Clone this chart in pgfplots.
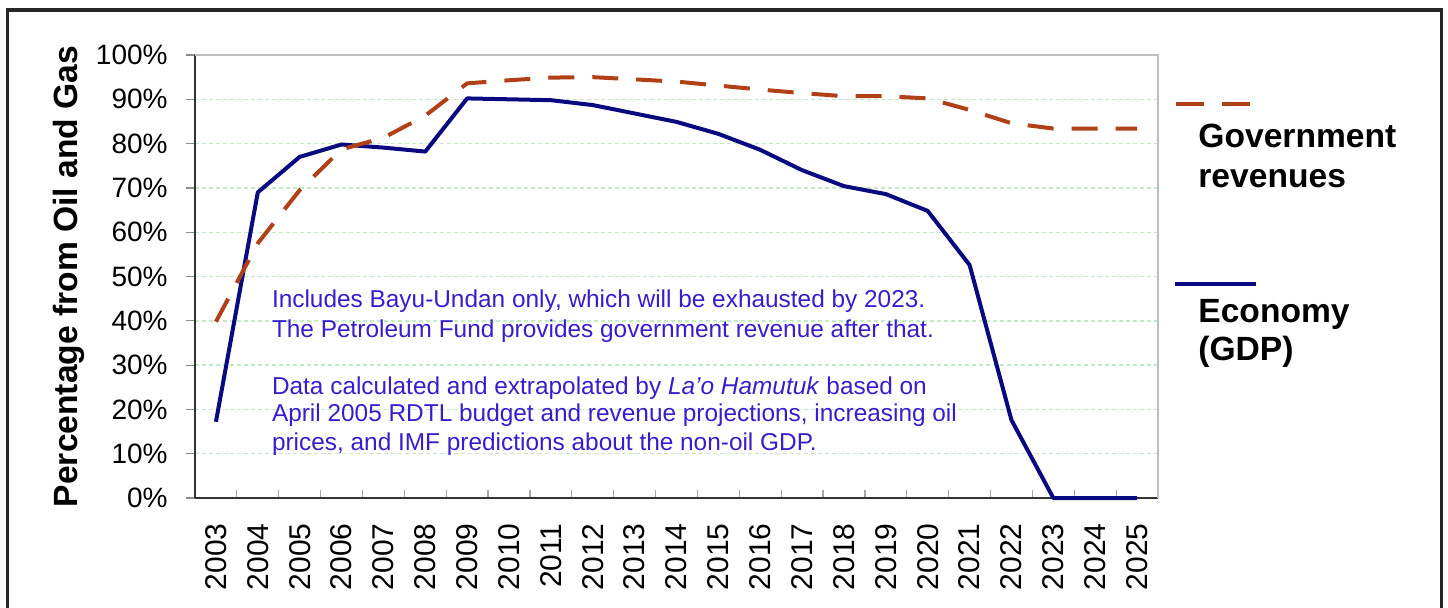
\documentclass[border=0pt]{standalone}
\usepackage{pgfplots}
\pgfplotsset{compat=1.18}
\usepackage{fontspec}
\setmainfont{Liberation Sans}
\definecolor{revcol}{RGB}{176,64,22}
\definecolor{gdpcol}{RGB}{10,10,128}
\definecolor{notecol}{RGB}{55,30,205}
\definecolor{gridcol}{RGB}{196,234,196}
\pgfplotstableread{
x rev gdp
0 39.8 17.2
1 57.5 69.0
2 69.5 77.0
3 78.7 79.8
4 81.3 79.1
5 86.3 78.2
6 93.6 90.2
7 94.3 90.0
8 94.9 89.8
9 95.0 88.7
10 94.5 86.8
11 94.0 84.9
12 93.1 82.2
13 92.2 78.6
14 91.4 74.0
15 90.7 70.4
16 90.7 68.6
17 90.2 64.8
18 87.6 52.6
19 84.6 17.6
20 83.4 0
21 83.4 0
22 83.4 0
}\datatable
\begin{document}
\begin{tikzpicture}
\path[use as bounding box] (0,0) rectangle (724pt,303.5pt);
\draw[line width=1.5pt, black!85] (3.7pt,-20pt) -- (3.7pt,298.5pt) -- (720.7pt,298.5pt) -- (720.7pt,-20pt);
\begin{axis}[
  at={(97.5pt,54.5pt)}, anchor=south west,
  scale only axis, width=481.5pt, height=221.5pt,
  xmin=-0.5, xmax=22.5, ymin=0, ymax=100,
  clip=false,
  axis x line*=bottom, axis y line*=left,
  axis line style={black!80, line width=1pt},
  xtick={0,...,22},
  xticklabels={2003,2004,2005,2006,2007,2008,2009,2010,2011,2012,2013,2014,2015,2016,2017,2018,2019,2020,2021,2022,2023,2024,2025},
  major x tick style={draw=none},
  minor xtick={0.5,1.5,...,21.5},
  minor x tick style={black!35, line width=0.6pt},
  minor tick length=4pt,
  xtick align=inside,
  ytick={0,10,...,100},
  yticklabels={0\%,10\%,20\%,30\%,40\%,50\%,60\%,70\%,80\%,90\%,100\%},
  ytick align=outside,
  major tick length=4.5pt,
  y tick style={black!45, line width=0.6pt},
  ymajorgrids,
  major y grid style={gridcol, dash pattern=on 2pt off 1.5pt, line width=0.7pt},
  yticklabel style={anchor=east, inner sep=0pt, xshift=-9pt, font=\fontsize{14}{16}\selectfont},
  xticklabel style={rotate=90, anchor=east, inner sep=0pt, xshift=-12.5pt, font=\fontsize{15}{17}\selectfont},
  ylabel={Percentage from Oil and Gas},
  every axis y label/.style={at={(axis description cs:-0.1225,0.5)}, rotate=90, anchor=base, font=\fontsize{16.8}{19}\selectfont\bfseries},
  after end axis/.code={
    \draw[black!25, line width=0.6pt] (rel axis cs:0,1) -- (rel axis cs:1,1) -- (rel axis cs:1,0);
  },
]
\addplot[gdpcol, line width=2pt, line join=round] table[x=x, y=gdp] {\datatable};
\addplot[revcol, line width=2pt, dash pattern=on 13pt off 9pt] table[x=x, y=rev] {\datatable};
\begin{scope}[every node/.style={anchor=base west, inner sep=0pt, text=notecol, font=\fontsize{12.2}{14}\selectfont}]
\node at (axis cs:1.33,42.9) {Includes Bayu-Undan only, which will be exhausted by 2023.};
\node at (axis cs:1.33,36.3) {The Petroleum Fund provides government revenue after that.};
\node at (axis cs:1.33,23.3) {Data calculated and extrapolated by \textit{La’o Hamutuk} based on};
\node at (axis cs:1.33,17.2) {April 2005 RDTL budget and revenue projections, increasing oil};
\node at (axis cs:1.33,10.8) {prices, and IMF predictions about the non-oil GDP.};
\end{scope}
\end{axis}
\draw[revcol, line width=2pt, dash pattern=on 14pt off 9pt] (588pt,251.5pt) -- (626pt,251.5pt);
\draw[gdpcol, line width=2pt] (587.5pt,161.75pt) -- (628pt,161.75pt);
\begin{scope}[every node/.style={anchor=base west, inner sep=0pt, font=\fontsize{16.8}{19}\selectfont\bfseries}]
\node at (599pt,230pt) {Government};
\node at (599pt,210pt) {revenues};
\node at (599pt,142.5pt) {Economy};
\node at (599pt,123.5pt) {(GDP)};
\end{scope}
\end{tikzpicture}
\end{document}
